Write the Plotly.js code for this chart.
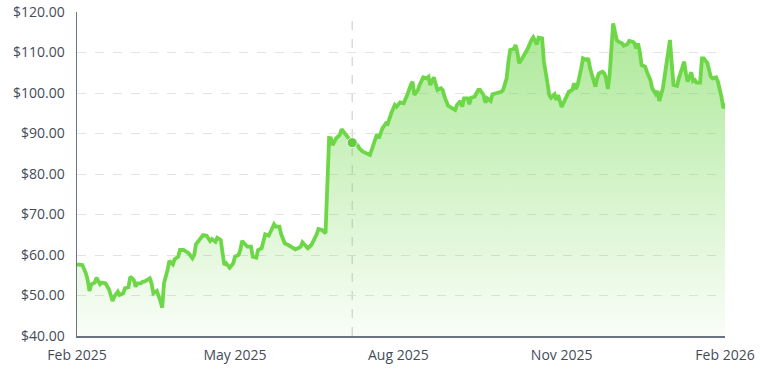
<!DOCTYPE html>
<html>
<head>
<meta charset="utf-8">
<script src="https://cdn.plot.ly/plotly-3.0.1.min.js"></script>
<style>
  html, body { margin: 0; padding: 0; background: #ffffff; }
  #chart { width: 762px; height: 375px; }
</style>
</head>
<body>
<div id="chart"></div>
<script>
const dates = [
  "2025-02-01","2025-02-04","2025-02-06","2025-02-07","2025-02-08","2025-02-09","2025-02-11","2025-02-12","2025-02-14","2025-02-15",
  "2025-02-17","2025-02-19","2025-02-20","2025-02-21","2025-02-22","2025-02-24","2025-02-25","2025-02-27","2025-02-28","2025-03-02",
  "2025-03-03","2025-03-05","2025-03-06","2025-03-07","2025-03-09","2025-03-10","2025-03-11","2025-03-13","2025-03-14","2025-03-15",
  "2025-03-16","2025-03-18","2025-03-19","2025-03-20","2025-03-21","2025-03-22","2025-03-24","2025-03-25","2025-03-27","2025-03-28",
  "2025-03-30","2025-03-31","2025-04-02","2025-04-05","2025-04-07","2025-04-08","2025-04-09","2025-04-11","2025-04-13","2025-04-15",
  "2025-04-17","2025-04-18","2025-04-20","2025-04-21","2025-04-23","2025-04-24","2025-04-25","2025-04-26","2025-04-28","2025-04-30",
  "2025-05-01","2025-05-03","2025-05-04","2025-05-05","2025-05-07","2025-05-08","2025-05-10","2025-05-11","2025-05-13","2025-05-14",
  "2025-05-16","2025-05-17","2025-05-18","2025-05-20","2025-05-21","2025-05-23","2025-05-24","2025-05-26","2025-05-27","2025-05-29",
  "2025-05-31","2025-06-02","2025-06-04","2025-06-06","2025-06-07","2025-06-08","2025-06-10","2025-06-11","2025-06-13","2025-06-14",
  "2025-06-16","2025-06-17","2025-06-19","2025-06-21","2025-06-23","2025-06-24","2025-06-25","2025-06-27","2025-06-29","2025-06-30",
  "2025-07-02","2025-07-04","2025-07-06","2025-07-09","2025-07-10","2025-07-12","2025-07-14","2025-07-16","2025-07-17","2025-07-19",
  "2025-07-20","2025-07-21","2025-07-23","2025-07-25","2025-07-26","2025-07-28","2025-07-30","2025-07-31","2025-08-02","2025-08-04",
  "2025-08-05","2025-08-06","2025-08-08","2025-08-09","2025-08-10","2025-08-12","2025-08-13","2025-08-15","2025-08-17","2025-08-18",
  "2025-08-19","2025-08-21","2025-08-23","2025-08-25","2025-08-26","2025-08-27","2025-08-29","2025-08-31","2025-09-02","2025-09-03",
  "2025-09-05","2025-09-06","2025-09-07","2025-09-09","2025-09-10","2025-09-11","2025-09-13","2025-09-15","2025-09-16","2025-09-18",
  "2025-09-19","2025-09-20","2025-09-22","2025-09-23","2025-09-25","2025-09-27","2025-09-28","2025-09-29","2025-10-01","2025-10-02",
  "2025-10-03","2025-10-05","2025-10-06","2025-10-07","2025-10-08","2025-10-10","2025-10-11","2025-10-13","2025-10-15","2025-10-16",
  "2025-10-18","2025-10-19","2025-10-21","2025-10-22","2025-10-24","2025-10-25","2025-10-26","2025-10-28","2025-10-29","2025-10-30",
  "2025-11-01","2025-11-04","2025-11-05","2025-11-07","2025-11-08","2025-11-09","2025-11-10","2025-11-12","2025-11-13","2025-11-15",
  "2025-11-16","2025-11-17","2025-11-19","2025-11-20","2025-11-21","2025-11-22","2025-11-24","2025-11-25","2025-11-26","2025-11-27",
  "2025-11-28","2025-11-29","2025-11-30","2025-12-01","2025-12-02","2025-12-03","2025-12-05","2025-12-06","2025-12-08","2025-12-09",
  "2025-12-11","2025-12-12","2025-12-13","2025-12-14","2025-12-15","2025-12-16","2025-12-18","2025-12-19","2025-12-21","2025-12-22",
  "2025-12-24","2025-12-25","2025-12-26","2025-12-28","2025-12-29","2025-12-30","2026-01-01","2026-01-02","2026-01-03","2026-01-05",
  "2026-01-06","2026-01-08","2026-01-09","2026-01-10","2026-01-11","2026-01-12","2026-01-13","2026-01-14","2026-01-15","2026-01-16",
  "2026-01-18","2026-01-19","2026-01-20","2026-01-21","2026-01-22","2026-01-24","2026-01-25","2026-01-27","2026-01-28","2026-01-30",
  "2026-01-31","2026-02-01"
];
const prices = [
  57.70,57.53,55.48,53.83,51.11,52.77,53.16,54.40,52.77,53.16,
  53.01,51.53,50.12,48.64,49.70,50.94,50.12,50.54,51.78,52.03,
  54.64,53.83,52.17,53.01,53.01,53.41,53.41,53.83,54.25,53.01,
  50.54,51.11,50.12,48.64,46.99,53.01,56.30,58.52,57.70,58.94,
  59.58,61.24,61.24,60.42,59.19,60.00,62.64,63.70,64.94,64.77,
  63.46,63.95,63.29,64.27,63.70,60.42,57.53,57.95,56.87,57.95,
  59.58,60.00,61.24,63.46,62.47,62.05,62.05,59.58,59.33,61.24,
  61.66,63.46,65.11,64.77,65.75,67.58,66.99,66.99,65.11,62.89,
  62.47,62.05,61.41,61.80,62.05,63.14,62.05,61.66,62.47,63.29,
  65.11,66.42,66.17,65.36,88.89,88.82,87.16,88.82,89.63,91.04,
  90.05,88.82,87.73,87.16,86.35,85.51,85.11,84.69,85.93,88.82,
  89.88,88.82,91.28,92.52,92.35,94.99,97.04,96.62,97.70,97.46,
  98.27,99.51,101.98,102.79,99.51,100.74,101.98,103.88,103.63,104.02,
  101.98,103.88,100.74,101.16,100.74,99.09,96.86,96.22,95.80,97.04,
  98.03,96.62,98.69,98.69,97.21,98.84,99.09,100.74,100.74,99.51,
  97.61,98.69,98.03,99.68,99.93,100.32,100.32,100.74,103.63,107.73,
  110.62,110.86,111.85,110.20,107.33,108.72,109.38,111.04,113.09,113.75,
  112.02,113.65,113.51,107.73,102.40,99.51,98.84,99.68,98.27,99.51,
  96.54,99.51,100.32,100.74,102.40,100.99,101.98,106.10,108.57,108.15,
  108.57,106.10,103.21,101.56,103.63,104.86,105.26,104.86,103.63,100.99,
  104.44,111.85,117.21,115.14,113.09,112.67,112.27,111.68,112.02,112.84,
  112.67,112.27,111.04,112.27,110.20,106.91,106.49,105.26,103.21,101.16,
  99.75,100.49,98.03,101.16,104.02,106.91,113.09,107.33,101.98,101.73,
  103.63,106.35,107.73,104.86,102.79,104.02,105.11,102.96,103.21,102.54,
  102.54,108.57,108.57,107.98,107.48,104.02,103.63,103.88,102.79,99.09,
  96.22,97.61
];
const hoverIndex = 102; // highlighted point (2025-07-06)
const yTickVals = [40, 50, 60, 70, 80, 90, 100, 110, 120];

const lineColor = "#6ed748";

const traces = [
  {
    type: "scatter",
    mode: "lines",
    x: dates,
    y: prices,
    line: { color: lineColor, width: 3.8, shape: "linear" },
    fill: "tozeroy",
    fillgradient: {
      type: "vertical",
      start: 40,
      stop: 118,
      colorscale: [
        [0, "rgba(111,216,74,0.04)"],
        [1, "rgba(111,216,74,0.58)"]
      ]
    },
    hoverinfo: "skip",
    showlegend: false
  },
  {
    type: "scatter",
    mode: "markers",
    x: [dates[hoverIndex]],
    y: [prices[hoverIndex]],
    marker: { color: "#66c944", size: 10, line: { color: "rgba(255,255,255,0.8)", width: 1 } },
    hoverinfo: "skip",
    showlegend: false
  }
];

const layout = {
  width: 762,
  height: 375,
  margin: { l: 77, r: 37, t: 12, b: 39 },
  paper_bgcolor: "#ffffff",
  plot_bgcolor: "#ffffff",
  font: { family: "Open Sans, sans-serif", size: 14, color: "#454c59" },
  showlegend: false,
  xaxis: {
    type: "date",
    range: ["2025-02-01", "2026-02-01"],
    tick0: "2025-02-01",
    dtick: "M3",
    tickformat: "%b %Y",
    showgrid: false,
    zeroline: false,
    showline: true,
    linecolor: "#6b7280",
    linewidth: 1.5,
    ticks: "outside",
    ticklen: 6,
    tickcolor: "rgba(0,0,0,0)",
    tickfont: { family: "Open Sans, sans-serif", size: 14, color: "#454c59" },
    fixedrange: true
  },
  yaxis: {
    range: [40, 120],
    tickmode: "array",
    tickvals: yTickVals,
    tickformat: "$.2f",
    showgrid: true,
    gridcolor: "#e3e3e3",
    griddash: "dash",
    gridwidth: 1,
    zeroline: false,
    showline: true,
    linecolor: "#6b7280",
    linewidth: 1.5,
    ticks: "outside",
    ticklen: 8,
    tickcolor: "rgba(0,0,0,0)",
    tickfont: { family: "Open Sans, sans-serif", size: 14, color: "#454c59" },
    fixedrange: true
  },
  shapes: [
    {
      type: "line",
      xref: "x",
      yref: "paper",
      x0: dates[hoverIndex],
      x1: dates[hoverIndex],
      y0: 0,
      y1: 1,
      line: { color: "#c8c8c8", width: 1, dash: "dash" },
      layer: "below"
    }
  ]
};

Plotly.newPlot("chart", traces, layout, { displayModeBar: false, staticPlot: true });
</script>
</body>
</html>
